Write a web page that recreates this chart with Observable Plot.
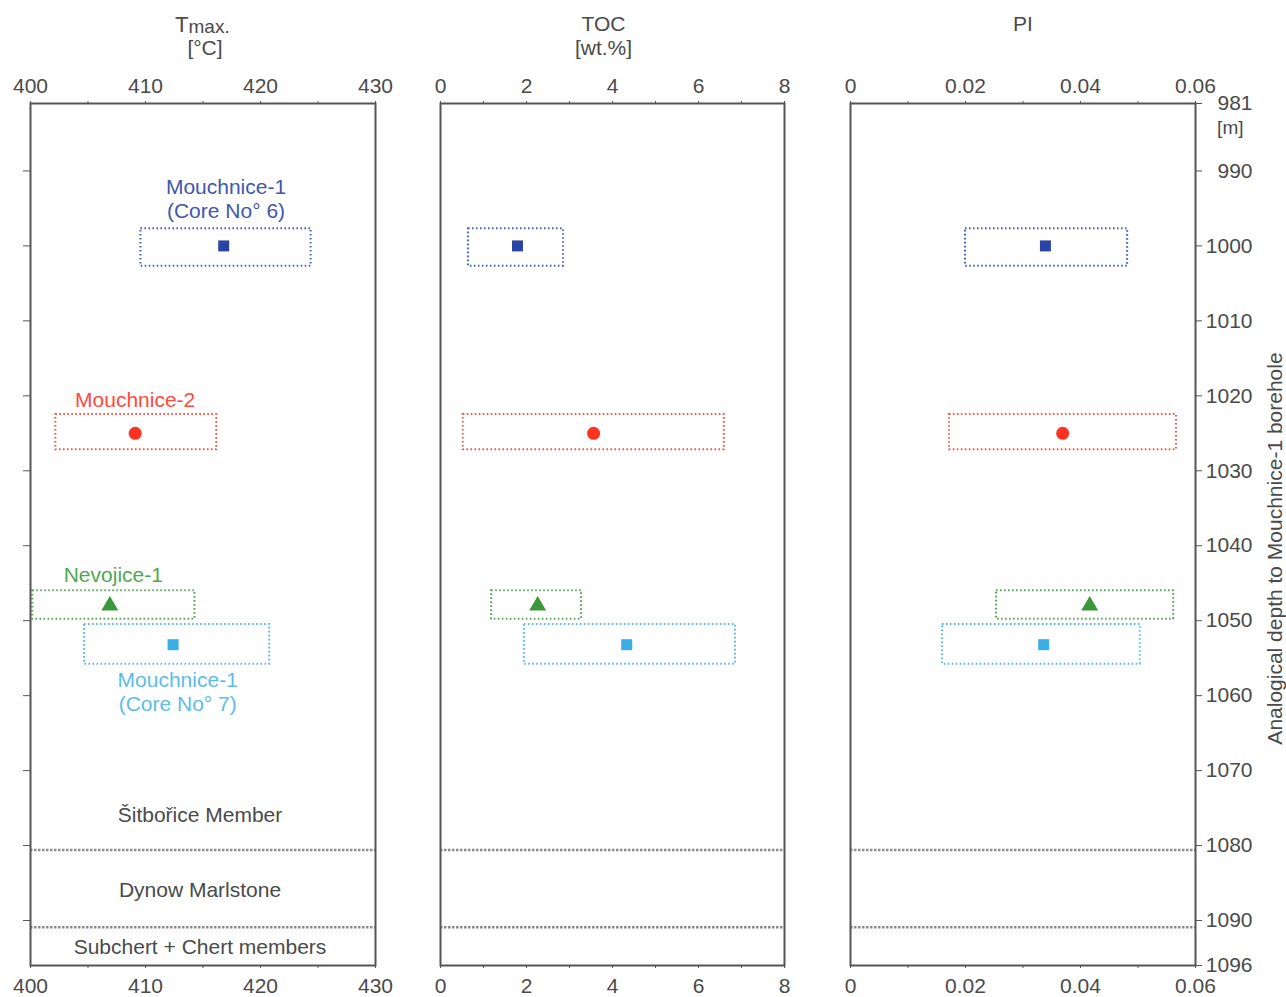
<!DOCTYPE html>
<html>
<head>
<meta charset="utf-8">
<script src="https://cdn.jsdelivr.net/npm/d3@7"></script>
<script src="https://cdn.jsdelivr.net/npm/@observablehq/plot@0.6"></script>
<style>
  html, body { margin: 0; padding: 0; background: #fff; }
  #chart { position: relative; width: 1286px; height: 997px; overflow: hidden; }
  #chart > svg { position: absolute; top: 0; }
</style>
</head>
<body>
<div id="chart"></div>
<script>
// ---- data ----
const samples = ["Mouchnice-1 (Core No° 6)", "Mouchnice-2", "Nevojice-1", "Mouchnice-1 (Core No° 7)"];
const depth       = [1000.0, 1025.0, 1048.0, 1053.2];
const depthTop    = [997.7, 1022.5, 1046.0, 1050.5];
const depthBottom = [1002.7, 1027.2, 1049.8, 1055.8];
const tmax    = [416.8, 409.1, 406.9, 412.4];
const tmaxMin = [409.6, 402.2, 400.2, 404.7];
const tmaxMax = [424.4, 416.2, 414.3, 420.8];
const toc     = [1.79, 3.56, 2.26, 4.33];
const tocMin  = [0.65, 0.53, 1.19, 1.95];
const tocMax  = [2.86, 6.60, 3.28, 6.86];
const pi      = [0.0339, 0.0369, 0.0416, 0.0336];
const piMin   = [0.0200, 0.0172, 0.0254, 0.0160];
const piMax   = [0.0482, 0.0567, 0.0562, 0.0504];
const sampleColors = ["#2a44a3", "#ff3322", "#3a983a", "#3aaee6"];
const labelColors  = ["#4058ad", "#ff4a3a", "#4fa84f", "#5cbde9"];
const sampleSymbols = ["square", "circle", "triangle", "square"];
const sampleLabels = ["Mouchnice-1\n(Core No° 6)", "Mouchnice-2", "Nevojice-1", "Mouchnice-1\n(Core No° 7)"];
const labelDepth = [993.7, 1020.4, 1043.8, 1059.4];
const labelTmax  = [417.0, 409.1, 407.2, 412.8];

const members = ["Šitbořice Member", "Dynow Marlstone", "Subchert + Chert members"];
const memberDepth = [1075.9, 1085.9, 1093.6];
const boundaries = [1080.6, 1090.9];

const depthDomain = [981, 1096];
const depthTicks = [981, 990, 1000, 1010, 1020, 1030, 1040, 1050, 1060, 1070, 1080, 1090, 1096];
const depthMinorTicks = [990, 1000, 1010, 1020, 1030, 1040, 1050, 1060, 1070, 1080, 1090];

const tmaxTicks = [400, 410, 420, 430], tmaxMinor = [405, 415, 425];
const tocTicks = [0, 2, 4, 6, 8], tocMinor = [1, 3, 5, 7];
const piTicks = [0, 0.02, 0.04, 0.06], piMinor = [0.01, 0.03, 0.05];

// ---- build rows ----
const rows = samples.map((s, i) => ({
  sample: s, depth: depth[i], top: depthTop[i], bottom: depthBottom[i],
  tmax: tmax[i], tmaxMin: tmaxMin[i], tmaxMax: tmaxMax[i],
  toc: toc[i], tocMin: tocMin[i], tocMax: tocMax[i],
  pi: pi[i], piMin: piMin[i], piMax: piMax[i],
  color: sampleColors[i], labelColor: labelColors[i], symbol: sampleSymbols[i],
  label: sampleLabels[i], labelDepth: labelDepth[i], labelTmax: labelTmax[i]
}));

const FONT = "Liberation Sans, Arial, Helvetica, sans-serif";
const TXT = "#4a4a4a";
const FS = 21;
const H = 997, MT = 103, MB = 32;

function panel({key, domain, ticks, minor, fmt, left, width, mr, titleMarks, extra}) {
  const marks = [
    Plot.ruleY(boundaries, {stroke: "#8a8a8a", strokeWidth: 2.5, strokeDasharray: "2.5 1.5"}),
    ...rows.map(r => Plot.rect([r], {
      x1: key + "Min", x2: key + "Max", y1: "top", y2: "bottom",
      fill: "none", stroke: r.color, strokeWidth: 2, strokeDasharray: "1.6 2.4", strokeOpacity: 0.85
    })),
    ...rows.map(r => Plot.dot([r], {
      x: key, y: "depth", symbol: r.symbol, fill: r.color, stroke: "none",
      r: r.symbol === "circle" ? 6.5 : (r.symbol === "triangle" ? 6.3 : 6.2)
    })),
    Plot.frame({stroke: "#555", strokeWidth: 2}),
    Plot.axisX({anchor: "top", ticks, tickFormat: fmt, tickSize: 3, tickPadding: 8, fontSize: FS, stroke: "#555", fill: TXT}),
    Plot.axisX({anchor: "top", ticks: minor, tickFormat: () => "", tickSize: 3, stroke: "#555"}),
    Plot.axisX({anchor: "bottom", ticks, tickFormat: fmt, tickSize: 3, tickPadding: 10, fontSize: FS, stroke: "#555", fill: TXT}),
    Plot.axisX({anchor: "bottom", ticks: minor, tickFormat: () => "", tickSize: 3, stroke: "#555"}),
    ...titleMarks,
    ...(extra || [])
  ];
  const svg = Plot.plot({
    width, height: H,
    marginTop: MT, marginBottom: MB, marginLeft: 30, marginRight: mr,
    x: {domain, axis: null},
    y: {domain: depthDomain, reverse: true, axis: null},
    style: {fontFamily: FONT, fontSize: FS + "px", color: TXT, background: "transparent", overflow: "visible"},
    marks
  });
  svg.style.left = left + "px";
  document.getElementById("chart").appendChild(svg);
}

// Panel 1: Tmax
panel({
  key: "tmax", domain: [400, 430], ticks: tmaxTicks, minor: tmaxMinor, fmt: d => String(d),
  left: 0, width: 405, mr: 30,
  titleMarks: [
    Plot.text(["T"], {frameAnchor: "top", dy: -79, dx: -14.5, text: d => d, textAnchor: "end", lineAnchor: "middle", fontSize: 22, fill: TXT}),
    Plot.text(["max."], {frameAnchor: "top", dy: -77, dx: -14.5, text: d => d, textAnchor: "start", lineAnchor: "middle", fontSize: 19, fill: TXT}),
    Plot.text(["[°C]"], {frameAnchor: "top", dy: -55, dx: 2, text: d => d, textAnchor: "middle", lineAnchor: "middle", fontSize: FS, fill: TXT})
  ],
  extra: [
    Plot.axisY({anchor: "left", ticks: depthMinorTicks, tickFormat: () => "", tickSize: 7, stroke: "#555"}),
    Plot.text(rows, {x: "labelTmax", y: "labelDepth", text: "label", fill: d => d.labelColor, fontSize: FS, lineHeight: 1.14, lineAnchor: "middle"}),
    Plot.text(members, {y: (d, i) => memberDepth[i], text: d => d, frameAnchor: "middle", textAnchor: "middle", dx: -3, fontSize: FS, fill: TXT})
  ]
});

// Panel 2: TOC
panel({
  key: "toc", domain: [0, 8], ticks: tocTicks, minor: tocMinor, fmt: d => String(d),
  left: 410, width: 410, mr: 36,
  titleMarks: [
    Plot.text(["TOC"], {frameAnchor: "top", dy: -79, dx: -9, text: d => d, textAnchor: "middle", lineAnchor: "middle", fontSize: FS, fill: TXT}),
    Plot.text(["[wt.%]"], {frameAnchor: "top", dy: -55, dx: -9, text: d => d, textAnchor: "middle", lineAnchor: "middle", fontSize: FS, fill: TXT})
  ]
});

// Panel 3: PI with depth axis
panel({
  key: "pi", domain: [0, 0.06], ticks: piTicks, minor: piMinor, fmt: d => d === 0 ? "0" : d.toFixed(2),
  left: 820, width: 466, mr: 91,
  titleMarks: [
    Plot.text(["PI"], {frameAnchor: "top", dy: -79, dx: 0, text: d => d, textAnchor: "middle", lineAnchor: "middle", fontSize: FS, fill: TXT})
  ],
  extra: [
    Plot.axisY({anchor: "right", ticks: depthTicks, tickFormat: () => "", tickSize: 6, stroke: "#555"}),
    Plot.text(depthTicks, {y: d => d, text: d => String(d), frameAnchor: "right", dx: 57, textAnchor: "end", lineAnchor: "middle", fontSize: FS, fill: TXT}),
    Plot.text(["[m]"], {frameAnchor: "top-right", dx: 48, dy: 24, text: d => d, textAnchor: "end", lineAnchor: "middle", fontSize: 19, fill: TXT}),
    Plot.text(["Analogical depth to Mouchnice-1 borehole"], {frameAnchor: "right", dx: 80, dy: 14, rotate: -90, text: d => d, textAnchor: "middle", lineAnchor: "middle", fontSize: FS, fill: TXT})
  ]
});
</script>
</body>
</html>
